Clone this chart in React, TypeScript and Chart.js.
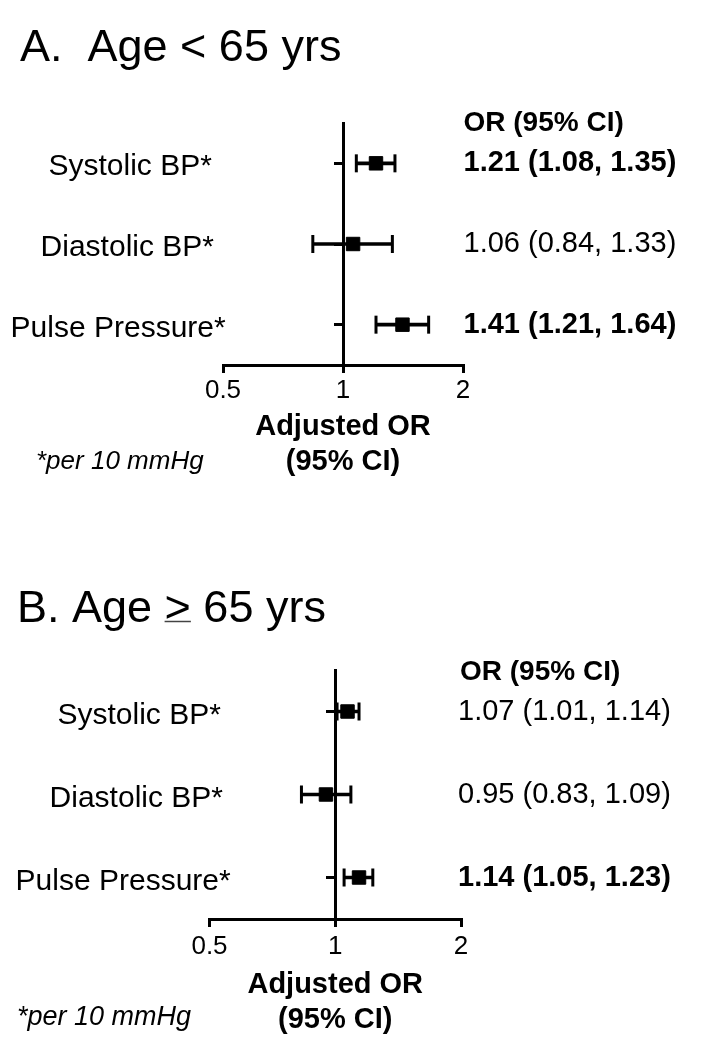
import React, { useEffect, useRef } from 'react';
import { Chart, registerables } from 'chart.js';

Chart.register(...registerables);

// ---------- data ----------
const categories = ['Systolic BP*', 'Diastolic BP*', 'Pulse Pressure*'];
const xTickValues = [0.5, 1, 2];

const orA = [1.21, 1.06, 1.41];
const lowerA = [1.08, 0.84, 1.21];
const upperA = [1.35, 1.33, 1.64];
const boldA = [true, false, true];

const orB = [1.07, 0.95, 1.14];
const lowerB = [1.01, 0.83, 1.05];
const upperB = [1.14, 1.09, 1.23];
const boldB = [false, false, true];

const titleAParts = ['A.  Age ', '<', ' 65 yrs'];
const titleBParts = ['B. Age ', '>', ' 65 yrs'];
const orHeader = 'OR (95% CI)';
const axisTitleLines = ['Adjusted OR', '(95% CI)'];
const footnote = '*per 10 mmHg';

// ---------- layout ----------
const FONT = '"Liberation Sans", Arial, Helvetica, sans-serif';
const W = 706;
const H = 525;
const X_AXIS_H = 50;

type Panel = {
  titleParts: string[];
  underlineSymbol: boolean;
  or: number[];
  lower: number[];
  upper: number[];
  bold: boolean[];
  area: { left: number; right: number; top: number; bottom: number };
  titleX: number;
  titleY: number;
  headerX: number;
  headerY: number;
  valueX: number;
  labelX: number[];
  labelDy: number;
  tickFont: number;
  tickPad: number;
  axisTitleY: number[];
  noteX: number;
  noteY: number;
  noteSize: number;
};

const panelA: Panel = {
  titleParts: titleAParts,
  underlineSymbol: false,
  or: orA,
  lower: lowerA,
  upper: upperA,
  bold: boldA,
  area: { left: 223, right: 463, top: 123, bottom: 365 },
  titleX: 20,
  titleY: 61,
  headerX: 463.5,
  headerY: 131,
  valueX: 463.5,
  labelX: [48.5, 40.6, 10.6],
  labelDy: 12,
  tickFont: 26,
  tickPad: 2,
  axisTitleY: [435, 470],
  noteX: 36,
  noteY: 469,
  noteSize: 26,
};

const panelB: Panel = {
  titleParts: titleBParts,
  underlineSymbol: true,
  or: orB,
  lower: lowerB,
  upper: upperB,
  bold: boldB,
  area: { left: 209.5, right: 461, top: 145, bottom: 394 },
  titleX: 17,
  titleY: 97,
  headerX: 460,
  headerY: 155,
  valueX: 458,
  labelX: [57.5, 49.6, 15.6],
  labelDy: 12,
  tickFont: 26,
  tickPad: 4,
  axisTitleY: [468, 503],
  noteX: 17,
  noteY: 500,
  noteSize: 27,
};

const LABEL_SIZE = 30;

function fmt(v: number) {
  return v.toFixed(2);
}

function drawText(
  ctx: CanvasRenderingContext2D,
  text: string,
  x: number,
  y: number,
  o: { size: number; weight?: string; style?: string; align?: CanvasTextAlign; baseline?: CanvasTextBaseline }
) {
  ctx.save();
  ctx.font = `${o.style || 'normal'} ${o.weight || 'normal'} ${o.size}px ${FONT}`;
  ctx.fillStyle = '#000';
  ctx.textAlign = o.align || 'left';
  ctx.textBaseline = o.baseline || 'alphabetic';
  ctx.fillText(text, x, y);
  ctx.restore();
}

function makeTextPlugin(p: Panel) {
  return {
    id: 'forestText',
    afterDraw(chart: any) {
      const ctx: CanvasRenderingContext2D = chart.ctx;
      const ys = chart.scales.y;
      const xs = chart.scales.x;

      // Title
      const title = p.titleParts.join('');
      drawText(ctx, title, p.titleX, p.titleY, { size: 45 });
      if (p.underlineSymbol) {
        ctx.save();
        ctx.font = `normal normal 45px ${FONT}`;
        const w0 = ctx.measureText(p.titleParts[0]).width;
        const w1 = ctx.measureText(p.titleParts[1]).width;
        ctx.strokeStyle = '#444';
        ctx.lineWidth = 1.5;
        ctx.beginPath();
        ctx.moveTo(p.titleX + w0, p.titleY - 0.5);
        ctx.lineTo(p.titleX + w0 + w1, p.titleY - 0.5);
        ctx.stroke();
        ctx.restore();
      }

      // Right column header
      drawText(ctx, orHeader, p.headerX, p.headerY, { size: 28, weight: 'bold' });

      // Row labels and OR text
      categories.forEach((c, i) => {
        const yp = ys.getPixelForValue(i);
        drawText(ctx, c, p.labelX[i], yp + p.labelDy, { size: LABEL_SIZE });
        const txt = `${fmt(p.or[i])} (${fmt(p.lower[i])}, ${fmt(p.upper[i])})`;
        drawText(ctx, txt, p.valueX, yp, {
          size: 29,
          weight: p.bold[i] ? 'bold' : 'normal',
          baseline: 'middle',
        });
      });

      // Axis title
      const cx = xs.getPixelForValue(1);
      axisTitleLines.forEach((line, k) => {
        drawText(ctx, line, cx, p.axisTitleY[k], {
          size: 29,
          weight: 'bold',
          align: 'center',
        });
      });

      // Footnote
      drawText(ctx, footnote, p.noteX, p.noteY, { size: p.noteSize, style: 'italic' });
    },
  };
}

function buildConfig(p: Panel): any {
  const lowerPts = p.lower.map((v, i) => ({ x: v, y: categories[i] }));
  const upperPts = p.upper.map((v, i) => ({ x: v, y: categories[i] }));
  const orPts = p.or.map((v, i) => ({ x: v, y: categories[i] }));
  return {
    type: 'bar',
    data: {
      labels: categories,
      datasets: [
        {
          type: 'bar',
          label: '95% CI',
          data: p.lower.map((v, i) => [v, p.upper[i]]),
          backgroundColor: '#000',
          borderWidth: 0,
          barThickness: 3,
        },
        {
          type: 'scatter',
          label: 'CI caps',
          data: [...lowerPts, ...upperPts],
          pointStyle: 'line',
          pointRotation: 90,
          pointRadius: 9,
          pointBorderColor: '#000',
          pointBorderWidth: 3,
          showLine: false,
        },
        {
          type: 'scatter',
          label: 'Adjusted OR',
          data: orPts,
          pointStyle: 'rect',
          pointRadius: 9.5,
          pointBackgroundColor: '#000',
          pointBorderColor: '#000',
          pointBorderWidth: 1,
          showLine: false,
        },
      ],
    },
    options: {
      indexAxis: 'y',
      responsive: false,
      maintainAspectRatio: false,
      animation: false,
      events: [],
      layout: {
        padding: {
          left: p.area.left,
          right: W - p.area.right,
          top: p.area.top,
          bottom: H - p.area.bottom - X_AXIS_H,
        },
      },
      plugins: {
        legend: { display: false },
        tooltip: { enabled: false },
      },
      scales: {
        x: {
          type: 'logarithmic',
          position: 'bottom',
          min: 0.5,
          max: 2,
          afterBuildTicks: (s: any) => {
            s.ticks = xTickValues.map((v) => ({ value: v }));
          },
          afterFit: (s: any) => {
            s.height = X_AXIS_H;
          },
          ticks: {
            callback: (v: any) => String(v),
            font: { family: FONT, size: p.tickFont },
            color: '#000',
            padding: p.tickPad,
            maxRotation: 0,
            autoSkip: false,
          },
          grid: {
            display: true,
            drawOnChartArea: false,
            drawTicks: true,
            tickLength: 8,
            lineWidth: 3,
            color: '#000',
          },
          border: { display: true, width: 3, color: '#000' },
        },
        y: {
          type: 'category',
          position: { x: 1 },
          offset: true,
          ticks: { display: false },
          grid: {
            display: true,
            offset: false,
            drawOnChartArea: false,
            drawTicks: true,
            tickLength: 8,
            lineWidth: 3,
            color: '#000',
          },
          border: { display: true, width: 3, color: '#000' },
        },
      },
    },
    plugins: [makeTextPlugin(p)],
  };
}

function ForestPanel({ panel }: { panel: Panel }) {
  const ref = useRef<HTMLCanvasElement | null>(null);
  useEffect(() => {
    if (!ref.current) return;
    const chart = new Chart(ref.current, buildConfig(panel));
    return () => chart.destroy();
  }, [panel]);
  return <canvas ref={ref} width={W} height={H} style={{ display: 'block', width: W, height: H }} />;
}

export default function App() {
  return (
    <div style={{ position: 'absolute', left: 0, top: 0, width: W, height: 2 * H, background: '#fff' }}>
      <ForestPanel panel={panelA} />
      <ForestPanel panel={panelB} />
    </div>
  );
}
